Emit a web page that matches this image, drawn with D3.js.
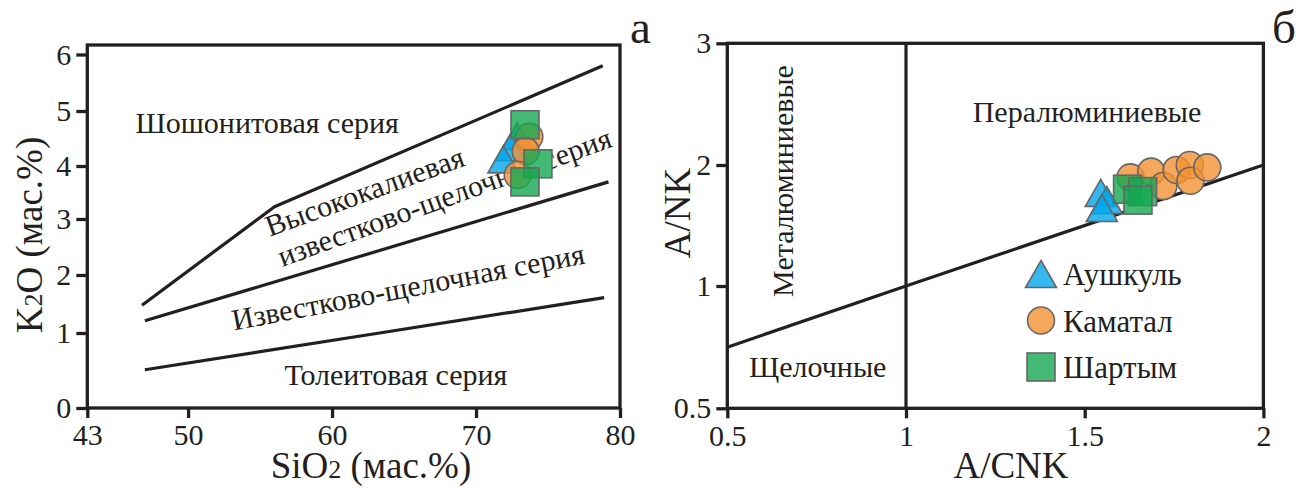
<!DOCTYPE html>
<html>
<head>
<meta charset="utf-8">
<script src="https://cdn.jsdelivr.net/npm/d3@7"></script>
<style>
body { margin: 0; background: #fff; }
svg text { font-family: 'Liberation Serif', 'DejaVu Serif', serif; fill: #231f20; }
</style>
</head>
<body>
<div id="visContainer"></div>
<script>
'use strict';

// ---- panel a : SiO2 vs K2O
var siTicks = [43, 50, 60, 70, 80];
var k2oTicks = [0, 1, 2, 3, 4, 5, 6];
var shoLine = [[46.8, 1.48], [56.0, 3.23], [78.8, 5.80]];   // shoshonite / high-K
var hkLine = [[47.0, 1.21], [79.2, 3.70]];                  // high-K / calc-alkaline
var caLine = [[47.0, 0.51], [63.3, 1.0], [78.9, 1.61]];     // calc-alkaline / tholeiite
var aushkulA = [[72.85, 4.54], [72.4, 4.34], [71.9, 4.12]];
var kamatalA = [[73.7, 4.53], [73.45, 4.27], [72.9, 3.83]];
var shartymA = [[73.4, 4.75], [74.3, 4.04], [73.4, 3.70]];

// ---- panel b : A/CNK vs A/NK
var acnkTicks = [0.5, 1, 1.5, 2];
var ankTicks = [0.5, 1, 2, 3];
var shandLine = [[0.5, 0.75], [1, 1], [2, 2]];
var aushkulB = [[1.545, 1.77], [1.562, 1.71], [1.548, 1.645]];
var kamatalB = [[1.628, 1.898], [1.686, 1.945], [1.72, 1.826], [1.757, 1.959], [1.794, 2.0], [1.796, 1.87], [1.843, 1.98]];
var shartymB = [[1.62, 1.80], [1.662, 1.78], [1.649, 1.71]];

var legendNames = ['Аушкуль', 'Каматал', 'Шартым'];

var width = 1311, height = 488;
var col = { tri: '#00A8EC', circ: '#F39233', sq: '#14A750', edge: '#666666', ink: '#231f20' };
var FS = 30;        // labels and ticks
var FT = 37;        // axis titles
var FONT = "'Liberation Serif', 'DejaVu Serif', serif";

var svg = d3.select('#visContainer').append('svg')
    .attr('width', width).attr('height', height)
    .attr('font-family', FONT);

// scales (the y axes in the original are not uniform, hence piecewise)
var xA = d3.scaleLinear().domain([43, 80]).range([87.3, 620]);
var yA = d3.scaleLinear().domain(k2oTicks).range([408, 333, 275, 219, 166, 111, 54.5]);
var xB = d3.scaleLinear().domain([0.5, 2]).range([727.3, 1263.4]);
var yB = d3.scaleLinear().domain(ankTicks).range([408.3, 286, 165, 43.3]);

function frame(x0, x1, y0, y1) {
  svg.append('rect').attr('x', x0).attr('y', y0)
    .attr('width', x1 - x0).attr('height', y1 - y0)
    .attr('fill', 'none').attr('stroke', col.ink).attr('stroke-width', 3.3);
}

function axes(x, y, xt, yt, fmtX, fmtY) {
  var gx = svg.append('g').attr('transform', 'translate(0,' + y.range()[0] + ')')
    .call(d3.axisBottom(x).tickValues(xt).tickSize(10).tickPadding(6).tickFormat(fmtX));
  var gy = svg.append('g').attr('transform', 'translate(' + x.range()[0] + ',0)')
    .call(d3.axisLeft(y).tickValues(yt).tickSize(11).tickPadding(5).tickFormat(fmtY));
  [gx, gy].forEach(function (g) {
    g.attr('font-family', FONT).attr('font-size', FS);
    g.select('.domain').remove();
    g.selectAll('line').attr('stroke', col.ink).attr('stroke-width', 3.3);
    g.selectAll('text').attr('font-size', FS).attr('font-family', FONT).attr('fill', col.ink);
  });
}

function boundary(pts, x, y) {
  var line = d3.line().x(function (d) { return x(d[0]); }).y(function (d) { return y(d[1]); });
  svg.append('path').attr('d', line(pts))
    .attr('fill', 'none').attr('stroke', col.ink).attr('stroke-width', 3.2)
    .attr('stroke-linejoin', 'round');
}

function label(txt, x, y, size, rot, anchor) {
  return svg.append('text')
    .attr('transform', 'translate(' + x + ',' + y + ')' + (rot ? ' rotate(' + rot + ')' : ''))
    .attr('font-size', size)
    .attr('font-family', FONT)
    .attr('text-anchor', anchor || 'start')
    .text(txt);
}

function triPath(w, h) {
  return 'M0,' + (-h / 2) + 'L' + (w / 2) + ',' + (h / 2) + 'L' + (-w / 2) + ',' + (h / 2) + 'Z';
}

// one marker of a kind at (cx,cy)
function marker(g, kind, cx, cy, fill, op, edge) {
  var m;
  if (kind === 'tri') {
    m = g.append('path').attr('d', triPath(31, 27)).attr('transform', 'translate(' + cx + ',' + cy + ')');
  } else if (kind === 'circ') {
    m = g.append('circle').attr('cx', cx).attr('cy', cy).attr('r', 13.5);
  } else {
    m = g.append('rect').attr('x', cx - 14).attr('y', cy - 14).attr('width', 28).attr('height', 28);
  }
  m.attr('fill', fill).attr('fill-opacity', op);
  if (edge) m.attr('stroke', col.edge).attr('stroke-width', 1.6);
  return m;
}

function samples(sets, x, y) {
  // white underlay first so the text behind the cluster is hidden
  var under = svg.append('g');
  var over = svg.append('g');
  sets.forEach(function (s) {
    s.data.forEach(function (d) {
      marker(under, s.kind, x(d[0]), y(d[1]), '#fff', 1, false);
    });
  });
  sets.forEach(function (s) {
    s.data.forEach(function (d) {
      marker(over, s.kind, x(d[0]), y(d[1]), s.color, 0.8, true);
    });
  });
}

// ================= panel a
boundary(shoLine, xA, yA);
boundary(hkLine, xA, yA);
boundary(caLine, xA, yA);
frame(xA.range()[0], xA.range()[1], 45, yA.range()[0]);
axes(xA, yA, siTicks, k2oTicks, d3.format('d'), d3.format('d'));

label('Шошонитовая серия', 135.5, 133, FS);
label('Высококалиевая', 269.7, 236.8, FS, -20);
label('известково-щелочная серия', 282.3, 266.9, FS, -20);
label('Известково-щелочная серия', 234.1, 330.5, FS, -10.8);
label('Толеитовая серия', 284.4, 385, FS);

samples([
  { kind: 'tri', data: aushkulA, color: col.tri },
  { kind: 'circ', data: kamatalA, color: col.circ },
  { kind: 'sq', data: shartymA, color: col.sq }
], xA, yA);

var xt = label('', 371, 478, FT, 0, 'middle');
xt.append('tspan').text('SiO');
xt.append('tspan').attr('font-size', 26).text('2');
xt.append('tspan').text(' (мас.%)');

var yt = label('', 42, 235, FT, -90, 'middle');
yt.append('tspan').text('K');
yt.append('tspan').attr('font-size', 26).text('2');
yt.append('tspan').text('O (мас.%)');

label('а', 630, 43, 47);

// ================= panel b
boundary(shandLine, xB, yB);
svg.append('line')
  .attr('x1', xB(1)).attr('x2', xB(1))
  .attr('y1', yB(3)).attr('y2', yB(0.5))
  .attr('stroke', col.ink).attr('stroke-width', 3.2);
frame(xB.range()[0], xB.range()[1], yB(3), yB(0.5));
axes(xB, yB, acnkTicks, ankTicks, d3.format('~g'), d3.format('~g'));

label('Металюминиевые', 793, 181, FS, -90, 'middle');
label('Пералюминиевые', 1087, 122, FS, 0, 'middle');
label('Щелочные', 749, 377, FS);

samples([
  { kind: 'tri', data: aushkulB, color: col.tri },
  { kind: 'circ', data: kamatalB, color: col.circ },
  { kind: 'sq', data: shartymB, color: col.sq }
], xB, yB);

// legend
var legKinds = ['tri', 'circ', 'sq'];
var legCols = [col.tri, col.circ, col.sq];
var leg = svg.append('g');
legendNames.forEach(function (name, i) {
  var cy = 274 + i * 46.5;
  marker(leg, legKinds[i], 1041, cy, legCols[i], 0.8, true);
  label(name, 1063, cy + 11, 31);
});

label('A/CNK', 1011, 478, FT, 0, 'middle');
label('A/NK', 690, 213, FT, -90, 'middle');
label('б', 1272, 43, 47);
</script>
</body>
</html>
